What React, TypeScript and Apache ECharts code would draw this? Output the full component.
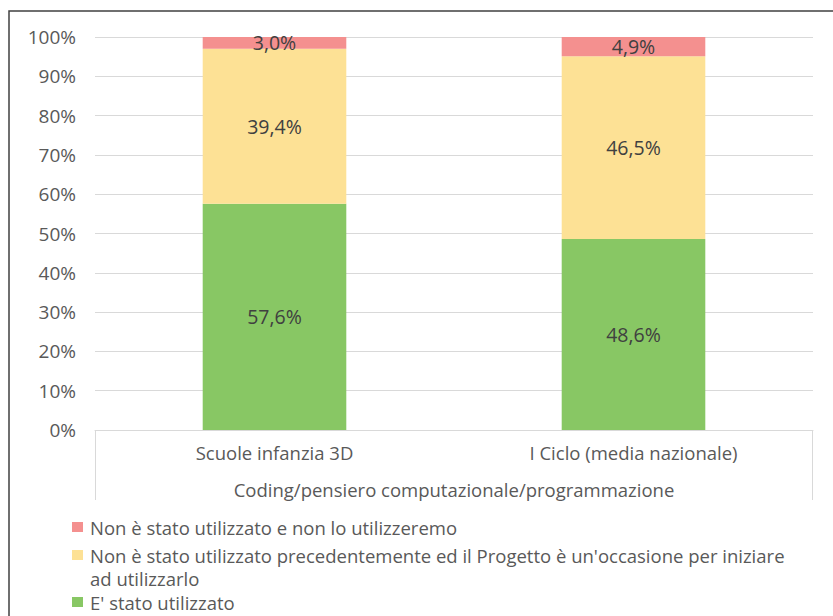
import React, { useEffect, useRef } from "react";
import * as echarts from "echarts";

const categories = ["Scuole infanzia 3D", "I Ciclo (media nazionale)"];
const groupLabel = "Coding/pensiero computazionale/programmazione";
const seriesNames = [
  "E' stato utilizzato",
  "Non è stato utilizzato precedentemente ed il Progetto è un'occasione per iniziare ad utilizzarlo",
  "Non è stato utilizzato e non lo utilizzeremo",
];
const usedValues = [57.6, 48.6];
const opportunityValues = [39.4, 46.5];
const notUsedValues = [3.0, 4.9];
const seriesColors = ["#88C764", "#FDE195", "#F4908F"];
const legendLines = [
  ["Non è stato utilizzato e non lo utilizzeremo"],
  ["Non è stato utilizzato precedentemente ed il Progetto è un'occasione per iniziare", "ad utilizzarlo"],
  ["E' stato utilizzato"],
];
const legendColorIdx = [2, 1, 0];

const FONT = "'Open Sans', sans-serif";
const TEXT = "#595959";

export default function App() {
  const ref = useRef<HTMLDivElement>(null);
  useEffect(() => {
    if (!ref.current) return;
    const chart = echarts.init(ref.current, null, { renderer: "svg" });
    const values = [usedValues, opportunityValues, notUsedValues];
    const fmt = (v: number) => v.toFixed(1).replace(".", ",") + "%";

    const legendGraphics: any[] = [];
    const tops = [527, 555, 602];
    legendLines.forEach((lines, i) => {
      legendGraphics.push({
        type: "rect",
        shape: { x: 72, y: tops[i] - 5, width: 11, height: 10 },
        style: { fill: seriesColors[legendColorIdx[i]] },
        silent: true,
      });
      lines.forEach((ln, j) => {
        legendGraphics.push({
          type: "text",
          x: 90,
          y: tops[i] + j * 23.5,
          style: {
            text: ln,
            fill: TEXT,
            font: `18.5px ${FONT}`,
            textVerticalAlign: "middle",
            textAlign: "left",
          },
          silent: true,
        });
      });
    });

    chart.setOption({
      animation: false,
      grid: { left: 95, right: 20, top: 37, bottom: 186, containLabel: false },
      xAxis: {
        type: "category",
        data: categories,
        axisLine: { lineStyle: { color: "#D9D9D9", width: 1 } },
        axisTick: { show: false },
        axisLabel: { color: TEXT, fontFamily: FONT, fontSize: 18.5, margin: 13 },
      },
      yAxis: {
        type: "value",
        min: 0,
        max: 100,
        interval: 10,
        axisLine: { show: false },
        axisTick: { show: false },
        splitLine: { lineStyle: { color: "#D9D9D9", width: 1 } },
        axisLabel: {
          color: TEXT,
          fontFamily: FONT,
          fontSize: 19,
          margin: 19,
          formatter: "{value}%",
        },
      },
      series: seriesNames.map((name, i) => ({
        name,
        type: "bar",
        stack: "total",
        barWidth: "40%",
        data: values[i],
        itemStyle: { color: seriesColors[i] },
        label: {
          show: true,
          position: "inside",
          color: "#404040",
          fontFamily: FONT,
          fontSize: 19.5,
          formatter: (p: any) => fmt(p.value),
        },
      })),
      graphic: [
        {
          type: "rect",
          shape: { x: 9, y: 11, width: 900, height: 700 },
          style: { fill: "none", stroke: "#404040", lineWidth: 1.5 },
          silent: true,
        },
        {
          type: "line",
          shape: { x1: 95.5, y1: 430, x2: 95.5, y2: 500 },
          style: { stroke: "#D9D9D9", lineWidth: 1 },
          silent: true,
        },
        {
          type: "line",
          shape: { x1: 812.5, y1: 430, x2: 812.5, y2: 500 },
          style: { stroke: "#D9D9D9", lineWidth: 1 },
          silent: true,
        },
        {
          type: "text",
          x: 454,
          y: 489,
          style: {
            text: groupLabel,
            fill: TEXT,
            font: `18.5px ${FONT}`,
            textAlign: "center",
            textVerticalAlign: "middle",
          },
          silent: true,
        },
        ...legendGraphics,
      ],
    });
    return () => chart.dispose();
  }, []);
  return (
    <div
      ref={ref}
      style={{ position: "fixed", left: 0, top: 0, width: 833, height: 616, background: "#fff" }}
    />
  );
}
